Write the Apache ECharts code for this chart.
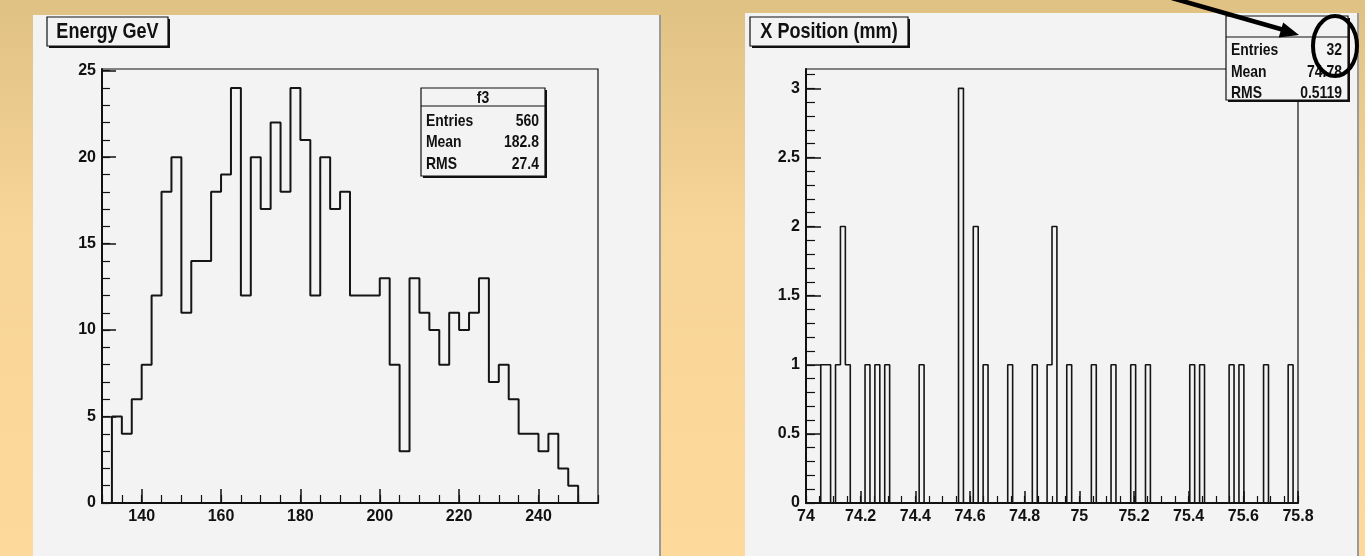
<!DOCTYPE html>
<html><head><meta charset="utf-8">
<script src="https://cdn.jsdelivr.net/npm/echarts@6/dist/echarts.min.js"></script>
<style>html,body{margin:0;padding:0;overflow:hidden;background:#fcd89b;}#c{width:1365px;height:556px;}</style>
</head><body><div id="c"></div>
<script>
// ---------- Left histogram: Energy GeV (50 bins of 2.5 from 130 to 255) ----------
const energyTitle = 'Energy GeV';
const energyMin = 130, energyMax = 255, energyBinWidth = 2.5;
const energyCounts = [
  0, 5, 4, 6, 8, 12, 18, 20, 11, 14,
  14, 18, 19, 24, 12, 20, 17, 22, 18, 24,
  21, 12, 20, 17, 18, 12, 12, 12, 13, 8,
  3, 13, 11, 10, 8, 11, 10, 11, 13, 7,
  8, 6, 4, 4, 3, 4, 2, 1, 0, 0
];
const energyXTicks = [140, 160, 180, 200, 220, 240];
const energyYTicks = [0, 5, 10, 15, 20, 25];
const energyYMax = 25.1;
const energyStatsTitle = 'f3';
const energyStatsLabels = ['Entries', 'Mean', 'RMS'];
const energyStatsValues = ['560', '182.8', '27.4'];

// ---------- Right histogram: X Position (mm) (100 bins from 74 to 75.8) ----------
const posTitle = 'X Position (mm)';
const posMin = 74, posMax = 75.8, posBinWidth = 0.018;
const posCounts = [
  0,0,0,1,1,0,1,2,1,0, 0,0,1,0,1,0,1,0,0,0,
  0,0,0,1,0,0,0,0,0,0, 0,3,0,0,2,0,1,0,0,0,
  0,1,0,0,0,0,1,0,0,1, 2,0,0,1,0,0,0,0,1,0,
  0,0,1,0,0,0,1,0,0,1, 0,0,0,0,0,0,0,0,1,0,
  1,0,0,0,0,0,1,0,1,0, 0,0,0,1,0,0,0,0,1,0
];
const posXTicks = [74, 74.2, 74.4, 74.6, 74.8, 75, 75.2, 75.4, 75.6, 75.8];
const posYTicks = [0, 0.5, 1, 1.5, 2, 2.5, 3];
const posYMax = 3.14;
const posStatsTitle = '';
const posStatsLabels = ['Entries', 'Mean', 'RMS'];
const posStatsValues = ['32', '74.78', '0.5119'];

// ---------- helpers ----------
const FONT = '"Liberation Sans", Arial, sans-serif';
const NARROW = 0.82; // horizontal squeeze of the reference lettering
function range(a, b, step) { const out = []; const n = Math.round((b - a) / step); for (let i = 0; i <= n; i++) out.push(+(a + i * step).toFixed(6)); return out; }
function stepData(min, w, counts) {
  const pts = [[min, 0]];
  counts.forEach((c, i) => pts.push([+(min + i * w).toFixed(6), c]));
  pts.push([+(min + counts.length * w).toFixed(6), counts[counts.length - 1]]);
  return pts;
}
const fmt = v => String(v);

function majorX(grid, min, max, ticks, tickLen) {
  return { gridIndex: grid, type: 'value', position: 'bottom', min, max,
    axisLine: { show: true, onZero: false, lineStyle: { color: '#111', width: 2 } },
    axisTick: { show: true, inside: true, length: tickLen, customValues: ticks, lineStyle: { color: '#111', width: 1.5 } },
    axisLabel: { show: true, customValues: ticks, formatter: fmt, margin: 6, color: '#111', fontFamily: FONT, fontWeight: 'bold', fontSize: 16, hideOverlap: false },
    splitLine: { show: false } };
}
function minorX(grid, min, max, ticks, tickLen) {
  return { gridIndex: grid, type: 'value', position: 'bottom', offset: 0, min, max,
    axisLine: { show: false },
    axisTick: { show: true, inside: true, length: tickLen, customValues: ticks, lineStyle: { color: '#111', width: 1.2 } },
    axisLabel: { show: false }, splitLine: { show: false } };
}
function majorY(grid, max, ticks, tickLen) {
  return { gridIndex: grid, type: 'value', position: 'left', min: 0, max,
    axisLine: { show: true, onZero: false, lineStyle: { color: '#111', width: 2 } },
    axisTick: { show: true, inside: true, length: tickLen, customValues: ticks, lineStyle: { color: '#111', width: 1.5 } },
    axisLabel: { show: true, customValues: ticks, formatter: fmt, margin: 6, color: '#111', fontFamily: FONT, fontWeight: 'bold', fontSize: 16 },
    splitLine: { show: false } };
}
function minorY(grid, max, ticks, tickLen) {
  return { gridIndex: grid, type: 'value', position: 'left', offset: 0, min: 0, max,
    axisLine: { show: false },
    axisTick: { show: true, inside: true, length: tickLen, customValues: ticks, lineStyle: { color: '#111', width: 1.2 } },
    axisLabel: { show: false }, splitLine: { show: false } };
}

function txt(x, y, text, size, align) {
  return { type: 'text', z: 120, x, y, scaleX: NARROW, scaleY: 1,
    style: { x: 0, y: 0, text, fill: '#111', font: 'bold ' + size + 'px ' + FONT,
      align, textAlign: align, verticalAlign: 'middle', textVerticalAlign: 'middle' } };
}
function shadowBox(x, y, w, h, sh) {
  return [
    { type: 'rect', z: 110, shape: { x: x + sh, y: y + sh, width: w, height: h }, style: { fill: '#111' } },
    { type: 'rect', z: 111, shape: { x, y, width: w, height: h }, style: { fill: '#f3f3f3', stroke: '#111', lineWidth: 1.2 } }
  ];
}
function statsBox(x, y, w, h, headH, title, labels, values, rowY) {
  const els = shadowBox(x, y, w, h, 2);
  els.push({ type: 'line', z: 112, shape: { x1: x, y1: y + headH, x2: x + w, y2: y + headH }, style: { stroke: '#111', lineWidth: 1.2 } });
  if (title) els.push(txt(x + w / 2, y + headH / 2 + 1, title, 17, 'center'));
  labels.forEach((l, i) => {
    els.push(txt(x + 5, rowY[i], l, 17, 'left'));
    els.push(txt(x + w - 6, rowY[i], values[i], 17, 'right'));
  });
  return els;
}

const graphics = [
  // panels
  { type: 'rect', z: -10, shape: { x: 33, y: 15, width: 628, height: 545 }, style: { fill: '#f3f3f3' } },
  { type: 'rect', z: -9, shape: { x: 659, y: 15, width: 2, height: 545 }, style: { fill: '#9a9a9a' } },
  { type: 'rect', z: -10, shape: { x: 745, y: 13, width: 614, height: 547 }, style: { fill: '#f3f3f3' } },
  { type: 'rect', z: -9, shape: { x: 1357, y: 13, width: 2, height: 547 }, style: { fill: '#9a9a9a' } },
  // titles
  ...shadowBox(47, 17, 121, 29, 2),
  txt(107.5, 32, energyTitle, 22, 'center'),
  ...shadowBox(750, 17, 158, 29, 2),
  txt(829, 32, posTitle, 22, 'center'),
  // stats boxes
  ...statsBox(421, 88, 124, 88, 18, energyStatsTitle, energyStatsLabels, energyStatsValues, [121, 142, 164]),
  ...statsBox(1226, 16, 122, 84, 21, posStatsTitle, posStatsLabels, posStatsValues, [50, 72, 93]),
  // annotation arrow and circle
  { type: 'line', z: 200, shape: { x1: 1172, y1: -2, x2: 1284, y2: 30 }, style: { stroke: '#000', lineWidth: 4.5 } },
  { type: 'polygon', z: 200, shape: { points: [[1299, 35], [1278.7, 37.5], [1283.2, 22.5]] }, style: { fill: '#000' } },
  { type: 'ellipse', z: 201, shape: { cx: 1335, cy: 46, rx: 22, ry: 30 }, style: { fill: 'none', stroke: '#000', lineWidth: 4 } }
];

const option = {
  animation: false,
  backgroundColor: { type: 'linear', x: 0, y: 0, x2: 0, y2: 1,
    colorStops: [{ offset: 0, color: '#e0c184' }, { offset: 0.4, color: '#f7d497' }, { offset: 1, color: '#fdd99c' }] },
  grid: [
    { left: 102, top: 69, width: 496, height: 434, show: true, borderColor: '#111', borderWidth: 1.2, backgroundColor: 'transparent' },
    { left: 806, top: 69, width: 492, height: 434, show: true, borderColor: '#111', borderWidth: 1.2, backgroundColor: 'transparent' }
  ],
  xAxis: [
    majorX(0, energyMin, energyMax, energyXTicks, 14),
    minorX(0, energyMin, energyMax, range(energyMin, energyMax, 5), 8),
    majorX(1, posMin, posMax, posXTicks, 12),
    minorX(1, posMin, posMax, range(posMin, posMax, 0.05), 7)
  ],
  yAxis: [
    majorY(0, energyYMax, energyYTicks, 14),
    minorY(0, energyYMax, range(0, 25, 1), 8),
    majorY(1, posYMax, posYTicks, 15),
    minorY(1, posYMax, range(0, 3.1, 0.1), 9)
  ],
  series: [
    { type: 'line', xAxisIndex: 0, yAxisIndex: 0, step: 'end', showSymbol: false, symbol: 'none',
      data: stepData(energyMin, energyBinWidth, energyCounts), lineStyle: { color: '#151515', width: 2 }, z: 5 },
    { type: 'line', xAxisIndex: 2, yAxisIndex: 2, step: 'end', showSymbol: false, symbol: 'none',
      data: stepData(posMin, posBinWidth, posCounts), lineStyle: { color: '#151515', width: 1.6 }, z: 5 }
  ],
  graphic: graphics
};
const chart = echarts.init(document.getElementById('c'), null, { renderer: 'canvas' });
chart.setOption(option);
</script></body></html>
